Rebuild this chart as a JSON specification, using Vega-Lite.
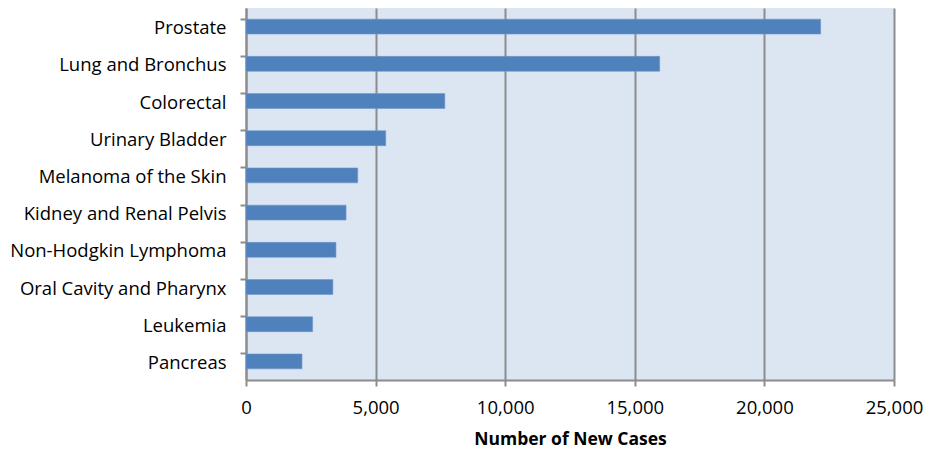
{
  "$schema": "https://vega.github.io/schema/vega-lite/v6.json",
  "autosize": {"type": "none"},
  "padding": {"left": 246, "top": 8, "right": 31, "bottom": 73},
  "width": 648,
  "height": 372,
  "background": "white",
  "config": {
    "view": {"fill": "#dce6f2", "stroke": null},
    "font": "Open Sans",
    "axis": {
      "labelFont": "Open Sans",
      "titleFont": "Open Sans",
      "labelFontSize": 18.5,
      "titleFontSize": 17.5,
      "labelColor": "#000000",
      "titleColor": "#000000",
      "domainColor": "#8c8c8c",
      "domainWidth": 2,
      "tickColor": "#8c8c8c",
      "tickWidth": 2,
      "tickSize": 6
    }
  },
  "data": {
    "values": [
      {"site": "Prostate", "cases": 22170},
      {"site": "Lung and Bronchus", "cases": 15960},
      {"site": "Colorectal", "cases": 7670},
      {"site": "Urinary Bladder", "cases": 5390},
      {"site": "Melanoma of the Skin", "cases": 4310},
      {"site": "Kidney and Renal Pelvis", "cases": 3860},
      {"site": "Non-Hodgkin Lymphoma", "cases": 3470},
      {"site": "Oral Cavity and Pharynx", "cases": 3350},
      {"site": "Leukemia", "cases": 2570},
      {"site": "Pancreas", "cases": 2160}
    ]
  },
  "mark": {"type": "bar", "color": "#4f81bd", "stroke": "#6f97cc", "strokeWidth": 0.6},
  "encoding": {
    "y": {
      "field": "site",
      "type": "nominal",
      "sort": null,
      "scale": {"paddingInner": 0.6, "paddingOuter": 0.3},
      "axis": {
        "title": null,
        "bandPosition": 0,
        "grid": false,
        "labelPadding": 14,
        "labelOffset": 1.5,
        "labelLimit": 260
      }
    },
    "x": {
      "field": "cases",
      "type": "quantitative",
      "scale": {"domain": [0, 25000], "nice": false},
      "axis": {
        "title": "Number of New Cases",
        "titleFontWeight": "bold",
        "titlePadding": 14,
        "values": [0, 5000, 10000, 15000, 20000, 25000],
        "format": ",d",
        "grid": true,
        "gridColor": "#8c8c8c",
        "gridWidth": 2,
        "labelPadding": 12,
        "labelFlush": false
      }
    }
  }
}
